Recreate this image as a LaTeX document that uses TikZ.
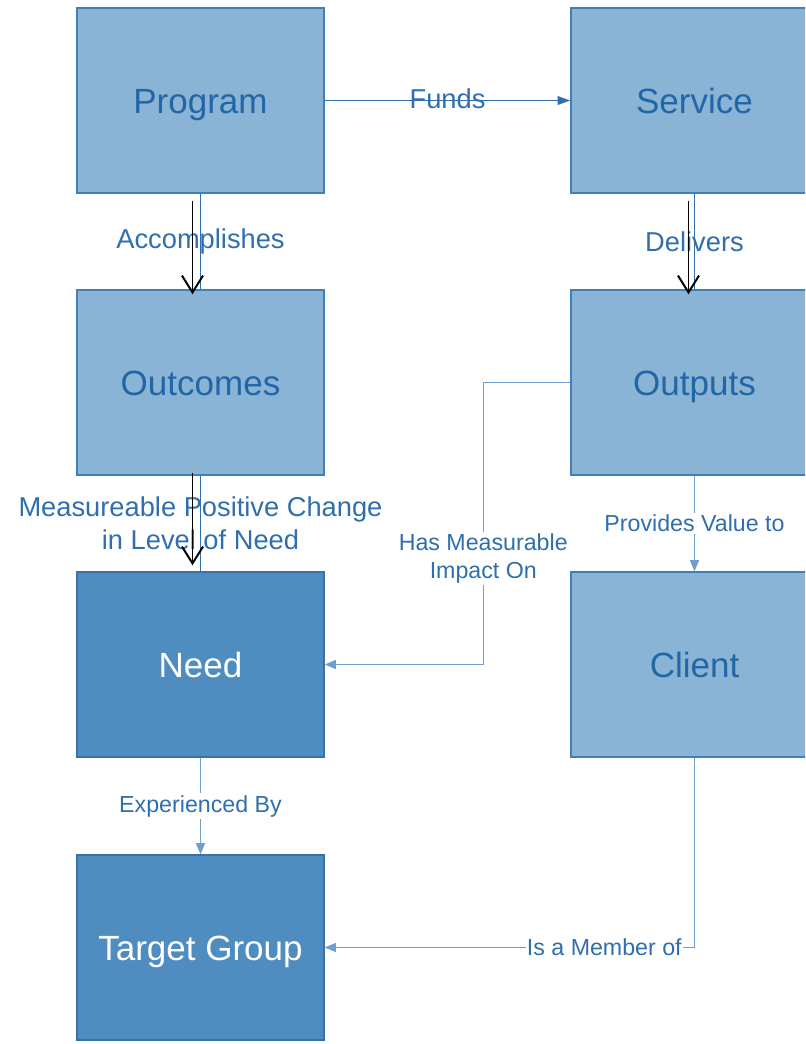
\documentclass[tikz,border=0pt]{standalone}
\usepackage{fontspec}
\setmainfont{Liberation Sans}
\usetikzlibrary{arrows.meta}
\definecolor{boxlight}{HTML}{8AB4D6}
\definecolor{boxdark}{HTML}{4F8DC0}
\definecolor{boxedge}{HTML}{3F7FBA}
\definecolor{boxtext}{HTML}{2266A6}
\definecolor{linkblue}{HTML}{2F6FAD}
\definecolor{linklight}{HTML}{6E9FCC}
\begin{document}
\begin{tikzpicture}[x=0.025cm,y=-0.025cm,
    lightbox/.style={draw=boxedge,fill=boxlight,line width=1pt,inner sep=0pt,
      minimum width=6.175cm,minimum height=4.625cm,text=boxtext,
      text height=18pt,text depth=0pt,
      font=\fontsize{24.9}{30}\selectfont},
    darkbox/.style={lightbox,fill=boxdark,draw=boxedge!90!black,text=white},
    mainlink/.style={draw=linkblue,line width=1pt},
    thinlink/.style={draw=linklight,line width=0.75pt,-{Triangle[length=8pt,width=6.5pt]}},
    blackarrow/.style={draw=black,line width=1.4pt,-{Straight Barb[length=12pt,width=15pt]}},
    biglabel/.style={text=linkblue,font=\fontsize{19.4}{23.5}\selectfont,align=center,inner sep=0pt},
    smalllabel/.style={text=linkblue,fill=white,font=\fontsize{16.5}{19.9}\selectfont,align=center,inner sep=1.5pt}]
  \clip (0,0) rectangle (805,1044);
  % left column
  \node[lightbox] (prog) at (200.5,100.5) {Program};
  \node[lightbox] (outc) at (200.5,382.5) {Outcomes};
  \node[darkbox] (need) at (200.5,664.5) {Need};
  \node[darkbox] (targ) at (200.5,947.5) {Target Group};
  % right column
  \node[lightbox] (serv) at (694.5,100.5) {Service};
  \node[lightbox] (outp) at (694.5,382.5) {Outputs};
  \node[lightbox] (cli) at (694.5,664.5) {Client};
  % program to service
  \draw[mainlink,-{Triangle[length=9pt,width=6.2pt]}] (prog.east) -- (serv.west)
    node[biglabel,midway,yshift=1.5pt] {Funds};
  % program to outcomes, service to outputs
  \draw[mainlink] (prog.south) -- (outc.north) node[biglabel,midway] {Accomplishes};
  \draw[mainlink] (serv.south) -- (outp.north) node[biglabel,midway] {Delivers};
  \draw[mainlink] (outc.south) -- (need.north)
    node[biglabel,midway] {Measureable Positive Change\\in Level of Need};
  % black arrows on top
  \draw[blackarrow] ([shift={(-8,7)}]prog.south) -- ([shift={(-8,5)}]outc.north);
  \draw[blackarrow] ([shift={(-6,7)}]serv.south) -- ([shift={(-6,5)}]outp.north);
  \draw[blackarrow] ([shift={(-8,-3)}]outc.south) -- ([shift={(-8,-6)}]need.north);
  % thin links
  \draw[thinlink] (outp.west) -- ++(-87,0) |- (need.east)
    node[smalllabel,pos=0.312] {Has Measurable\\Impact On};
  \draw[thinlink] (outp.south) -- (cli.north) node[smalllabel,midway] {Provides Value to};
  \draw[thinlink] (need.south) -- (targ.north) node[smalllabel,midway] {Experienced By};
  \draw[thinlink] (cli.south) |- (targ.east)
    node[smalllabel,pos=0.622,inner sep=1pt] {Is a Member of};
\end{tikzpicture}
\end{document}
